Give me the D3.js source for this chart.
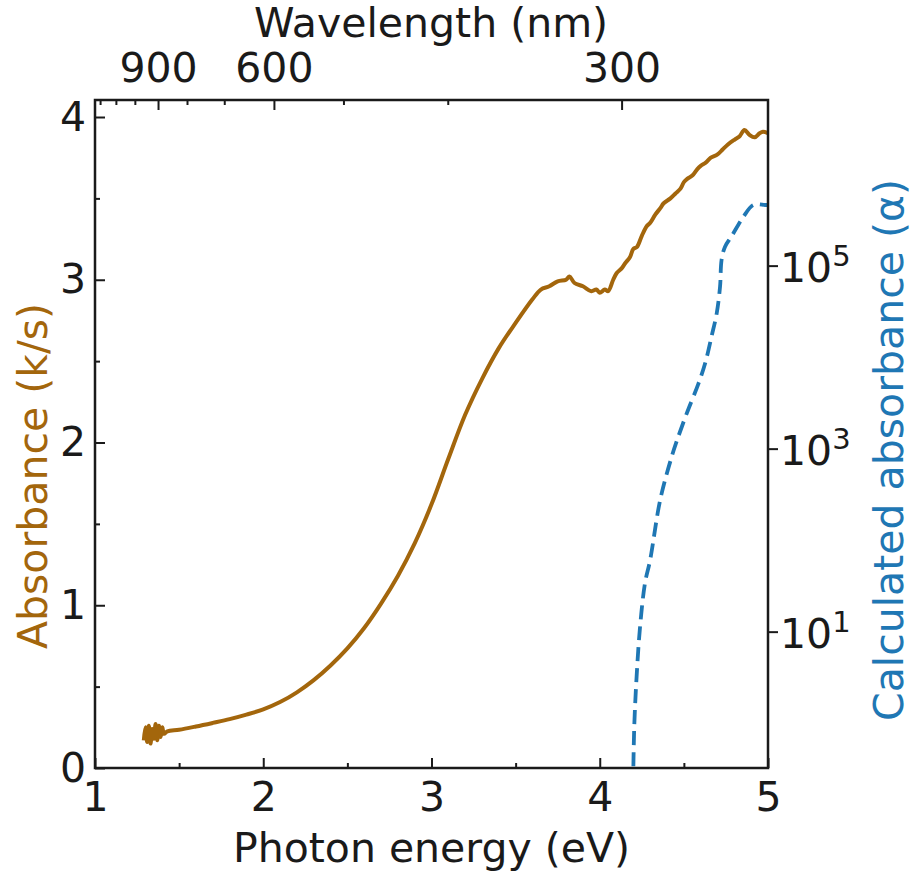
<!DOCTYPE html>
<html>
<head>
<meta charset="utf-8">
<script src="https://cdn.jsdelivr.net/npm/d3@7"></script>
<style>
  body { margin: 0; background: #fff; }
  text { font-family: "DejaVu Sans", sans-serif; }
</style>
</head>
<body>
<div id="chart"></div>
<script>
// measured absorbance (k/s) vs photon energy (eV)
const measE = [1.29, 1.30, 1.31, 1.32, 1.33, 1.34, 1.35, 1.36, 1.37, 1.38, 1.39, 1.40, 1.41, 1.43,
  1.5, 1.6, 1.7, 1.8, 1.9, 2.0, 2.1, 2.2, 2.3, 2.4, 2.5, 2.6, 2.7, 2.8, 2.9, 3.0, 3.1, 3.2, 3.3, 3.4,
  3.5, 3.6, 3.65, 3.7, 3.75, 3.8, 3.82, 3.85, 3.9, 3.95, 3.98, 4.0, 4.03, 4.05, 4.08, 4.1, 4.13, 4.15,
  4.18, 4.2, 4.22, 4.25, 4.28, 4.3, 4.33, 4.36, 4.38, 4.42, 4.45, 4.48, 4.5, 4.52, 4.55, 4.58, 4.6,
  4.63, 4.66, 4.7, 4.73, 4.76, 4.8, 4.83, 4.86, 4.89, 4.92, 4.95, 4.97, 5.0];
const measA = [0.17, 0.25, 0.16, 0.26, 0.15, 0.24, 0.18, 0.27, 0.17, 0.26, 0.19, 0.25, 0.21, 0.225,
  0.235, 0.255, 0.277, 0.30, 0.328, 0.36, 0.405, 0.465, 0.54, 0.63, 0.735, 0.86, 1.01, 1.18, 1.38, 1.62,
  1.90, 2.17, 2.39, 2.58, 2.735, 2.88, 2.94, 2.96, 2.99, 3.0, 3.02, 2.98, 2.96, 2.93, 2.94, 2.92, 2.94,
  2.93, 3.0, 3.04, 3.07, 3.1, 3.14, 3.19, 3.2, 3.27, 3.33, 3.35, 3.4, 3.44, 3.47, 3.50, 3.53, 3.56,
  3.6, 3.62, 3.64, 3.68, 3.7, 3.72, 3.75, 3.77, 3.80, 3.83, 3.86, 3.88, 3.92, 3.89, 3.875, 3.9, 3.91, 3.9];

// calculated absorbance (alpha), log scale
const calcE = [4.198, 4.205, 4.219, 4.239, 4.269, 4.299, 4.36, 4.427, 4.457, 4.516, 4.586, 4.626,
  4.665, 4.695, 4.715, 4.724, 4.744, 4.784, 4.853, 4.913, 4.982, 5.0];
const calcAlpha = [0.2, 0.91, 3.2, 11, 34, 60, 280, 810, 1200, 2400, 5100, 8500,
  1.7e4, 3.0e4, 5.9e4, 1.15e5, 1.6e5, 2.1e5, 3.4e5, 4.6e5, 4.6e5, 4.6e5];

const energyTicks = [1, 2, 3, 4, 5];
const energyMinor = [1.5, 2.5, 3.5, 4.5];
const absTicks = [0, 1, 2, 3, 4];
const absMinor = [0.5, 1.5, 2.5, 3.5];
const alphaTicks = [1e1, 1e3, 1e5];
const waveMajor = [900, 600, 300];
const waveMinor = [1200, 1100, 1000, 800, 700, 500, 400];

const W = 916, H = 877;
const m = { left: 95, right: 768, top: 100, bottom: 768 };
const brown = "#a3660c", blue = "#1f77b4", ink = "#1a1a1a";
const fs = 41;

const svg = d3.select("#chart").append("svg")
  .attr("width", W).attr("height", H);

const x = d3.scaleLinear().domain([1, 5]).range([m.left, m.right]);
const y = d3.scaleLinear().domain([0, 4.1045]).range([m.bottom, m.top]);
const yLog = d3.scaleLog().domain([Math.pow(10, -0.49), Math.pow(10, 6.81)]).range([m.bottom, m.top]);

svg.append("clipPath").attr("id", "clip")
  .append("rect")
  .attr("x", m.left).attr("y", m.top)
  .attr("width", m.right - m.left).attr("height", m.bottom - m.top);

// curves
svg.append("path")
  .datum(measE.map((e, i) => [e, measA[i]]))
  .attr("clip-path", "url(#clip)")
  .attr("fill", "none")
  .attr("stroke", brown)
  .attr("stroke-width", 4)
  .attr("stroke-linejoin", "round")
  .attr("d", d3.line().curve(d3.curveCatmullRom).x(d => x(d[0])).y(d => y(d[1])));

svg.append("path")
  .datum(calcE.map((e, i) => [e, calcAlpha[i]]))
  .attr("clip-path", "url(#clip)")
  .attr("fill", "none")
  .attr("stroke", blue)
  .attr("stroke-width", 3.8)
  .attr("stroke-dasharray", "14,7")
  .attr("d", d3.line().curve(d3.curveCatmullRom).x(d => x(d[0])).y(d => yLog(d[1])));

function styleAxis(g) {
  g.select(".domain").remove();
  g.selectAll(".tick line").attr("stroke", ink).attr("stroke-width", 2);
  g.selectAll(".tick text").attr("fill", ink).style("font-size", fs + "px")
    .style("font-family", "DejaVu Sans, sans-serif");
}

// bottom axis
svg.append("g").attr("transform", `translate(0,${m.bottom})`)
  .call(d3.axisBottom(x).tickValues(energyTicks).tickSize(-10).tickPadding(14).tickFormat(d3.format("d")))
  .call(styleAxis);
svg.append("g").attr("transform", `translate(0,${m.bottom})`)
  .call(d3.axisBottom(x).tickValues(energyMinor).tickSize(-5).tickFormat(""))
  .call(styleAxis);

// left axis
svg.append("g").attr("transform", `translate(${m.left},0)`)
  .call(d3.axisLeft(y).tickValues(absTicks).tickSize(-10).tickPadding(9).tickFormat(d3.format("d")))
  .call(styleAxis);
svg.append("g").attr("transform", `translate(${m.left},0)`)
  .call(d3.axisLeft(y).tickValues(absMinor).tickSize(-5).tickFormat(""))
  .call(styleAxis);

// top axis: wavelength, placed at E = 1239.84 / lambda
const xw = lam => x(1239.84 / lam);
const topAxis = svg.append("g");
topAxis.selectAll("line.maj").data(waveMajor).join("line")
  .attr("x1", xw).attr("x2", xw).attr("y1", m.top).attr("y2", m.top + 10)
  .attr("stroke", ink).attr("stroke-width", 2);
topAxis.selectAll("line.min").data(waveMinor).join("line")
  .attr("x1", xw).attr("x2", xw).attr("y1", m.top).attr("y2", m.top + 5)
  .attr("stroke", ink).attr("stroke-width", 2);
topAxis.selectAll("text").data(waveMajor).join("text")
  .attr("x", xw).attr("y", m.top - 18)
  .attr("text-anchor", "middle").attr("fill", ink)
  .style("font-size", fs + "px")
  .text(d => d);

// right axis (log)
const rAxis = svg.append("g").attr("transform", `translate(${m.right},0)`)
  .call(d3.axisRight(yLog).tickValues(alphaTicks).tickSize(10).tickPadding(4).tickFormat(""))
  .call(styleAxis);
const rt = rAxis.selectAll(".tick").append("text")
  .attr("x", 12).attr("dy", "0.38em").attr("fill", ink)
  .style("font-size", fs + "px");
rt.append("tspan").text("10");
rt.append("tspan").attr("dy", "-0.55em").style("font-size", "29px")
  .text(d => Math.round(Math.log10(d)));

// frame
svg.append("rect")
  .attr("x", m.left).attr("y", m.top)
  .attr("width", m.right - m.left).attr("height", m.bottom - m.top)
  .attr("fill", "none").attr("stroke", ink).attr("stroke-width", 2.5);

// titles
svg.append("text").attr("x", 431).attr("y", 37).attr("text-anchor", "middle")
  .attr("fill", ink).style("font-size", fs + "px").text("Wavelength (nm)");
svg.append("text").attr("x", (m.left + m.right) / 2).attr("y", 862).attr("text-anchor", "middle")
  .attr("fill", ink).style("font-size", fs + "px").text("Photon energy (eV)");
svg.append("text").attr("transform", "translate(47,476) rotate(-90)").attr("text-anchor", "middle")
  .attr("fill", brown).style("font-size", fs + "px").text("Absorbance (k/s)");
svg.append("text").attr("transform", "translate(903,450) rotate(-90)").attr("text-anchor", "middle")
  .attr("fill", blue).style("font-size", fs + "px").text("Calculated absorbance (\u03b1)");
</script>
</body>
</html>
